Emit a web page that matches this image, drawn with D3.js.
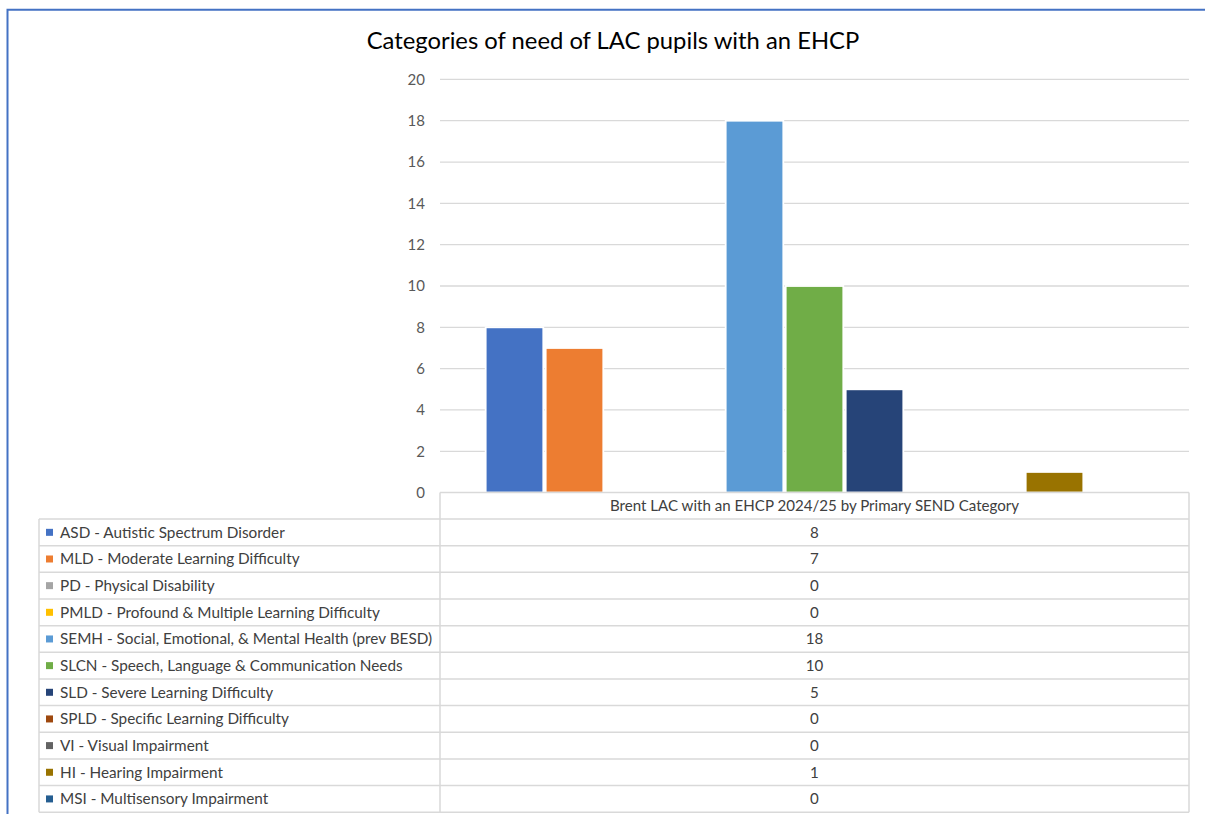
<!DOCTYPE html>
<html>
<head>
<meta charset="utf-8">
<script src="https://cdn.jsdelivr.net/npm/d3@7"></script>
<style>
html,body{margin:0;padding:0;background:#fff;}
svg{display:block;}
text{font-family:Lato,"Liberation Sans",sans-serif;}
</style>
</head>
<body>
<svg id="chart" width="1205" height="814"></svg>
<script>
const title = "Categories of need of LAC pupils with an EHCP";
const categoryLabel = "Brent LAC with an EHCP 2024/25 by Primary SEND Category";
const seriesNames = [
  "ASD - Autistic Spectrum Disorder",
  "MLD - Moderate Learning Difficulty",
  "PD - Physical Disability",
  "PMLD - Profound & Multiple Learning Difficulty",
  "SEMH - Social, Emotional, & Mental Health (prev BESD)",
  "SLCN - Speech, Language & Communication Needs",
  "SLD - Severe Learning Difficulty",
  "SPLD - Specific Learning Difficulty",
  "VI - Visual Impairment",
  "HI - Hearing Impairment",
  "MSI - Multisensory Impairment"
];
const seriesValues = [8, 7, 0, 0, 18, 10, 5, 0, 0, 1, 0];
const seriesColors = ["#4472C4","#ED7D31","#A5A5A5","#FFC000","#5B9BD5","#70AD47","#264478","#9E480E","#636363","#997300","#255E91"];
const yTicks = [0, 2, 4, 6, 8, 10, 12, 14, 16, 18, 20];

const svg = d3.select("#chart");
const plotLeft = 440, plotRight = 1189, plotTop = 79.4, plotBottom = 492.6;
const tableLeft = 39, rowH = 26.66, headerTop = plotBottom, tableTop = 519;
const gridColor = "#D9D9D9", textColor = "#404040";

// outer frame (blue)
svg.append("path")
  .attr("d", `M7.5,814 L7.5,9.8 L1205,9.8`)
  .attr("fill", "none").attr("stroke", "#4472C4").attr("stroke-width", 2);

// title
svg.append("text")
  .attr("x", 613).attr("y", 48.5)
  .attr("text-anchor", "middle")
  .attr("font-size", 23.8).attr("fill", "#000")
  .text(title);

const x = d3.scaleBand().domain([categoryLabel]).range([plotLeft, plotRight]).paddingInner(0).paddingOuter(0.0674);
const xi = d3.scaleBand().domain(seriesNames).range([0, x.bandwidth()]);
const y = d3.scaleLinear().domain([0, 20]).range([plotBottom, plotTop]);

// gridlines
svg.append("g").selectAll("line").data(yTicks.filter(d => d > 0)).join("line")
  .attr("x1", plotLeft).attr("x2", plotRight)
  .attr("y1", d => y(d)).attr("y2", d => y(d))
  .attr("stroke", gridColor).attr("stroke-width", 1.3);

// y axis labels
const yAxis = d3.axisLeft(y).tickValues(yTicks).tickSize(0).tickPadding(0);
const ga = svg.append("g").attr("transform", `translate(425,0)`).call(yAxis);
ga.select(".domain").remove();
ga.selectAll("text").attr("font-size", 15).attr("fill", "#595959")
  .attr("font-family", "Lato, 'Liberation Sans', sans-serif");

// bars
const data = seriesNames.map((n, i) => ({name: n, value: seriesValues[i], color: seriesColors[i]}));
svg.append("g").selectAll("rect").data(data.filter(d => d.value > 0)).join("rect")
  .attr("x", d => x(categoryLabel) + xi(d.name) + 1.2)
  .attr("width", xi.bandwidth() - 2.4)
  .attr("y", d => y(d.value))
  .attr("height", d => y(0) - y(d.value))
  .attr("fill", d => d.color)
  .attr("stroke", "#fff").attr("stroke-width", 1.8);

// data table
const tg = svg.append("g");
const tableBottom = tableTop + rowH * seriesNames.length;
tg.append("line").attr("x1", plotLeft).attr("x2", plotRight).attr("y1", headerTop).attr("y2", headerTop)
  .attr("stroke", gridColor).attr("stroke-width", 1.5);
const hLines = d3.range(seriesNames.length + 1).map(i => tableTop + i * rowH);
tg.selectAll("line.h").data(hLines).join("line").attr("class", "h")
  .attr("x1", tableLeft).attr("x2", plotRight)
  .attr("y1", d => d).attr("y2", d => d)
  .attr("stroke", gridColor).attr("stroke-width", 1.5);
tg.append("line").attr("x1", tableLeft).attr("x2", tableLeft).attr("y1", tableTop).attr("y2", tableBottom)
  .attr("stroke", gridColor).attr("stroke-width", 1.5);
tg.append("line").attr("x1", plotLeft).attr("x2", plotLeft).attr("y1", headerTop).attr("y2", tableBottom)
  .attr("stroke", gridColor).attr("stroke-width", 1.5);
tg.append("line").attr("x1", plotRight).attr("x2", plotRight).attr("y1", headerTop).attr("y2", tableBottom)
  .attr("stroke", gridColor).attr("stroke-width", 1.5);

// header text
tg.append("text")
  .attr("x", (plotLeft + plotRight) / 2).attr("y", (headerTop + tableTop) / 2)
  .attr("dy", "0.35em").attr("text-anchor", "middle")
  .attr("font-size", 15.1).attr("fill", textColor)
  .text(categoryLabel);

const rows = tg.selectAll("g.row").data(data).join("g").attr("class", "row")
  .attr("transform", (d, i) => `translate(0,${tableTop + i * rowH + rowH / 2})`);
rows.append("rect").attr("x", 46).attr("y", -3.5).attr("width", 7).attr("height", 7)
  .attr("fill", d => d.color);
rows.append("text").attr("x", 60).attr("dy", "0.35em")
  .attr("font-size", 15.3).attr("fill", textColor)
  .text(d => d.name);
rows.append("text").attr("x", (plotLeft + plotRight) / 2).attr("dy", "0.35em")
  .attr("text-anchor", "middle")
  .attr("font-size", 15.1).attr("fill", textColor)
  .text(d => d.value);
</script>
</body>
</html>
